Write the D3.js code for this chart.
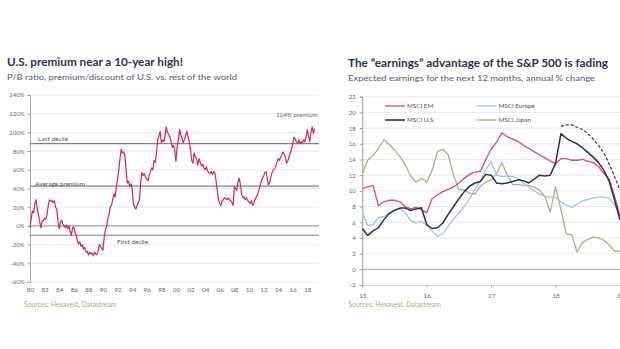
<!DOCTYPE html>
<html><head><meta charset="utf-8">
<script src="https://cdn.jsdelivr.net/npm/d3@7"></script>
<style>
body{margin:0;background:#fff;}
svg{display:block;font-family:Lato,"Open Sans",sans-serif;}
</style>
</head><body>
<svg id="c" width="620" height="349"></svg>
<script>
// ---------- Left chart data ----------
const premiumStartYear = 1980;
const premiumStepsPerYear = 6;
const premiumValues = [
  -2, 8, 16, 14, 24, 28,
  18, 12, 4, -2, 5, 6,
  8, 7, 12, 22, 28, 26,
  27, 25, 27, 20, 18, 5,
  -3, 4, 6, 2, 0, -2,
  1, -3, 0, -6, -10, -2,
  -1, -7, -10, -16, -19, -17,
  -22, -20, -25, -23, -28, -27,
  -31, -28, -30, -29, -32, -28,
  -30, -31, -27, -20, -22, -24,
  -26, -12, -4, -1, 8, 12,
  20, 22, 28, 34, 31, 42,
  50, 60, 72, 82, 78, 79,
  75, 60, 46, 48, 42, 45,
  40, 24, 20, 18, 22, 25,
  28, 46, 57, 54, 56, 52,
  50, 48, 54, 58, 62, 60,
  70, 68, 78, 92, 96, 101,
  89, 92, 90, 96, 106, 100,
  98, 95, 90, 84, 86, 81,
  69, 85, 92, 103, 97, 94,
  89, 92, 97, 101, 95, 90,
  81, 70, 67, 78, 74, 72,
  65, 72, 68, 64, 66, 62,
  60, 63, 59, 57, 56, 58,
  55, 58, 57, 48, 38, 28,
  24, 22, 27, 28, 30, 29,
  28, 30, 28, 27, 25, 22,
  42, 40, 38, 47, 51, 44,
  34, 30, 31, 28, 30, 27,
  26, 24, 27, 22, 24, 28,
  31, 33, 38, 42, 47, 51,
  53, 57, 58, 52, 44, 46,
  52, 57, 60, 61, 64, 68,
  72, 70, 73, 76, 79, 77,
  73, 67, 70, 74, 78, 82,
  88, 95, 93, 90, 88, 92,
  88, 90, 89, 92, 90, 95,
  103, 96, 90, 100, 106, 99,
  104
];
const premiumYTicks = [-60, -40, -20, 0, 20, 40, 60, 80, 100, 120, 140];
const premiumXTicks = [1980,1982,1984,1986,1988,1990,1992,1994,1996,1998,2000,2002,2004,2006,2008,2010,2012,2014,2016,2018];
const premiumRefLabels = ["Last decile", "Average premium", "First decile"];
const premiumRefValues = [88, 42.5, -10];

// ---------- Right chart data ----------
const earningsStartYear = 2015;
const emValues = [10.3,10.5,10.7,8.1,8.6,8.8,8.8,8.6,8.0,7.7,7.9,7.6,7.2,9.0,9.5,9.9,10.2,10.5,11.0,11.6,12.1,12.4,12.5,14.0,15.3,16.2,17.4,16.9,16.6,16.3,15.8,15.4,15.0,14.6,14.2,13.8,13.5,14.1,14.1,13.9,13.9,14.0,13.8,13.6,13.1,12.2,11.5,9.3,6.8];
const europeValues = [7.2,5.6,5.7,6.6,6.7,7.2,7.6,7.7,7.2,6.2,5.9,6.1,5.6,4.9,4.2,4.5,5.5,6.4,7.2,8.0,9.0,10.2,11.3,12.7,13.7,12.0,11.8,11.9,11.8,11.6,11.0,10.5,10.0,9.6,9.3,9.2,9.2,8.6,8.2,7.9,8.3,8.7,8.9,9.1,9.2,9.2,9.0,8.2,7.0];
const usValues = [5.2,4.3,4.9,5.3,6.3,7.1,7.5,7.8,7.8,7.5,7.7,7.85,5.7,5.2,5.3,5.9,7.0,8.0,9.0,9.9,10.6,11.0,11.2,12.1,12.0,11.0,10.9,11.0,11.2,11.4,11.3,11.0,11.5,12.0,11.9,12.0,13.5,17.3,16.7,16.3,16.0,15.5,14.9,14.3,13.6,12.6,11.2,8.8,6.3];
const japanValues = [12.2,13.9,14.5,15.4,16.5,15.9,15.2,14.4,13.3,11.9,11.1,11.6,11.1,12.6,15.0,15.3,14.6,12.0,10.2,10.1,9.7,9.6,10.6,11.1,11.4,12.2,13.6,12.0,10.8,10.8,10.7,10.7,10.5,10.1,9.3,7.3,10.5,7.6,4.5,4.4,2.2,3.4,3.8,4.1,4.0,3.7,3.1,2.3,2.3];
const dashedStartMonth = 37;
const dashedValues = [18.2,18.4,18.4,18.1,17.8,17.3,16.6,15.8,14.8,13.4,11.8,10.1];
const seriesNames = ["MSCI EM", "MSCI Europe", "MSCI U.S.", "MSCI Japan"];
const seriesColors = ["#d6487a", "#9fc4d8", "#2c3150", "#b7ab8c"];
const earningsYTicks = [-2, 0, 2, 4, 6, 8, 10, 12, 14, 16, 18, 20, 22];
const earningsXTicks = [2015, 2016, 2017, 2018, 2019];

// ---------- Drawing ----------
const svg = d3.select("#c");
const titleColor = "#2e3148";
const subColor = "#555a66";
const tickColor = "#666";
const gridColor = "#e3e3e3";
const refColor = "#7c808c";
const sourceColor = "#b9a67c";

function yy(v){ return String(((v % 100) + 100) % 100).padStart(2, "0"); }

// ===== LEFT =====
const xL = d3.scaleLinear().domain([1980, 2019.3]).range([30, 316.8]);
const yL = d3.scaleLinear().domain([-60, 140]).range([282, 95]);
const gL = svg.append("g");

gL.append("text").attr("x", 7).attr("y", 66).attr("fill", titleColor)
  .attr("font-size", 11).attr("font-weight", 700)
  .attr("textLength", 176).attr("lengthAdjust", "spacingAndGlyphs")
  .text("U.S. premium near a 10-year high!");
gL.append("text").attr("x", 7).attr("y", 79.5).attr("fill", subColor)
  .attr("font-size", 8.3)
  .attr("textLength", 230).attr("lengthAdjust", "spacingAndGlyphs")
  .text("P/B ratio, premium/discount of U.S. vs. rest of the world");

// grid
gL.append("g").selectAll("line").data(premiumYTicks.filter(d => d !== 0)).join("line")
  .attr("x1", 30).attr("x2", 319).attr("y1", d => yL(d)).attr("y2", d => yL(d))
  .attr("stroke", gridColor).attr("stroke-width", 0.8);

// axes
const axL = d3.axisLeft(yL).tickValues(premiumYTicks).tickSize(2.5).tickFormat(d => d + "%");
const gAxL = gL.append("g").attr("transform", "translate(30,0)").call(axL);
gAxL.select(".domain").attr("stroke", "#9a9a9a").attr("stroke-width", 0.8);
gAxL.selectAll(".tick line").attr("stroke", "#9a9a9a");
gAxL.selectAll("text").attr("fill", tickColor).attr("font-size", 6).attr("font-family", "Lato, sans-serif");

const axLB = d3.axisBottom(xL).tickValues(premiumXTicks).tickSize(0).tickFormat(yy).tickPadding(6);
const gAxLB = gL.append("g").attr("transform", `translate(0,${yL(-60)})`).call(axLB);
gAxLB.select(".domain").remove();
gAxLB.selectAll("text").attr("fill", tickColor).attr("font-size", 6.3).attr("font-family", "Lato, sans-serif");

// zero line & reference lines
gL.append("line").attr("x1", 30).attr("x2", 319).attr("y1", yL(0)).attr("y2", yL(0))
  .attr("stroke", "#9a9ea8").attr("stroke-width", 1.1);
gL.append("g").selectAll("line").data(premiumRefValues).join("line")
  .attr("x1", 30).attr("x2", 319).attr("y1", d => yL(d)).attr("y2", d => yL(d))
  .attr("stroke", refColor).attr("stroke-width", 1.2);

const refLabelX = [38, 35, 117];
const refLabelDy = [-2.5, -0.5, 9];
gL.append("g").selectAll("text").data(premiumRefValues).join("text")
  .attr("x", (d, i) => refLabelX[i]).attr("y", (d, i) => yL(d) + refLabelDy[i])
  .attr("fill", "#555a66").attr("font-size", 6.5)
  .text((d, i) => premiumRefLabels[i]);

// line
const premiumData = premiumValues.map((v, i) => [premiumStartYear + i / premiumStepsPerYear, v]);
gL.append("path").datum(premiumData)
  .attr("fill", "none").attr("stroke", "#d2255c").attr("stroke-width", 1.2)
  .attr("stroke-linejoin", "round")
  .attr("d", d3.line().x(d => xL(d[0])).y(d => yL(d[1])));

gL.append("text").attr("x", 317.5).attr("y", yL(116)).attr("text-anchor", "end")
  .attr("fill", "#666").attr("font-size", 6.2).text("104% premium");

gL.append("text").attr("x", 24).attr("y", 307).attr("fill", sourceColor)
  .attr("font-size", 6.8).text("Sources: Hexavest, Datastream");

// ===== RIGHT =====
const xR = d3.scaleLinear().domain([2015, 2019]).range([362.3, 620]);
const yR = d3.scaleLinear().domain([-2, 22]).range([285, 96.7]);
const gR = svg.append("g");

gR.append("text").attr("x", 348).attr("y", 66.5).attr("fill", titleColor)
  .attr("font-size", 11).attr("font-weight", 700)
  .attr("textLength", 260).attr("lengthAdjust", "spacingAndGlyphs")
  .text("The \u201Cearnings\u201D advantage of the S&P 500 is fading");
gR.append("text").attr("x", 348).attr("y", 81).attr("fill", subColor)
  .attr("font-size", 8.3)
  .attr("textLength", 247).attr("lengthAdjust", "spacingAndGlyphs")
  .text("Expected earnings for the next 12 months, annual % change");

gR.append("g").selectAll("line").data(earningsYTicks.filter(d => d !== 0 && d !== -2)).join("line")
  .attr("x1", 362.3).attr("x2", 620).attr("y1", d => yR(d)).attr("y2", d => yR(d))
  .attr("stroke", gridColor).attr("stroke-width", 0.8);
gR.append("line").attr("x1", 362.3).attr("x2", 620).attr("y1", yR(0)).attr("y2", yR(0))
  .attr("stroke", "#a9acb4").attr("stroke-width", 1);

const axR = d3.axisLeft(yR).tickValues(earningsYTicks).tickSize(2.5).tickFormat(d3.format("d")).tickPadding(4);
const gAxR = gR.append("g").attr("transform", "translate(362.3,0)").call(axR);
gAxR.select(".domain").attr("stroke", "#8a8a8a").attr("stroke-width", 0.9);
gAxR.selectAll(".tick line").attr("stroke", "#9a9a9a");
gAxR.selectAll("text").attr("fill", tickColor).attr("font-size", 6).attr("font-family", "Lato, sans-serif");

const axRB = d3.axisBottom(xR).tickValues(earningsXTicks).tickSize(2.5).tickFormat(yy).tickPadding(6);
const gAxRB = gR.append("g").attr("transform", `translate(0,${yR(-2)})`).call(axRB);
gAxRB.select(".domain").attr("stroke", "#c8c8c8").attr("stroke-width", 0.8);
gAxRB.selectAll(".tick line").attr("stroke", "#9a9a9a");
gAxRB.selectAll("text").attr("fill", tickColor).attr("font-size", 6.3).attr("font-family", "Lato, sans-serif");

const seriesValues = [japanValues, europeValues, emValues, usValues];
const seriesIdx = [3, 1, 0, 2];
const lineR = d3.line().x((d, i) => xR(earningsStartYear + i / 12)).y(d => yR(d));
seriesValues.forEach((vals, k) => {
  gR.append("path").datum(vals)
    .attr("fill", "none").attr("stroke", seriesColors[seriesIdx[k]])
    .attr("stroke-width", seriesIdx[k] === 2 ? 1.5 : 1.3).attr("stroke-linejoin", "round")
    .attr("d", lineR);
});

gR.append("path").datum(dashedValues)
  .attr("fill", "none").attr("stroke", "#333").attr("stroke-width", 1.2)
  .attr("stroke-dasharray", "3,2")
  .attr("d", d3.line().curve(d3.curveMonotoneX)
    .x((d, i) => xR(earningsStartYear + (dashedStartMonth + i) / 12)).y(d => yR(d)));

// legend
const legX = [385, 476.5, 385, 476.5];
const legY = [106, 106, 120, 120];
const leg = gR.append("g");
seriesNames.forEach((name, i) => {
  leg.append("line").attr("x1", legX[i]).attr("x2", legX[i] + 20)
    .attr("y1", legY[i]).attr("y2", legY[i])
    .attr("stroke", seriesColors[i]).attr("stroke-width", i === 2 ? 1.6 : 1.3);
  leg.append("text").attr("x", legX[i] + 22).attr("y", legY[i] + 2.2)
    .attr("fill", "#555").attr("font-size", 6.3).text(name);
});

gR.append("text").attr("x", 348.5).attr("y", 307).attr("fill", sourceColor)
  .attr("font-size", 6.8).text("Sources: Hexavest, Datastream");
</script>
</body></html>
